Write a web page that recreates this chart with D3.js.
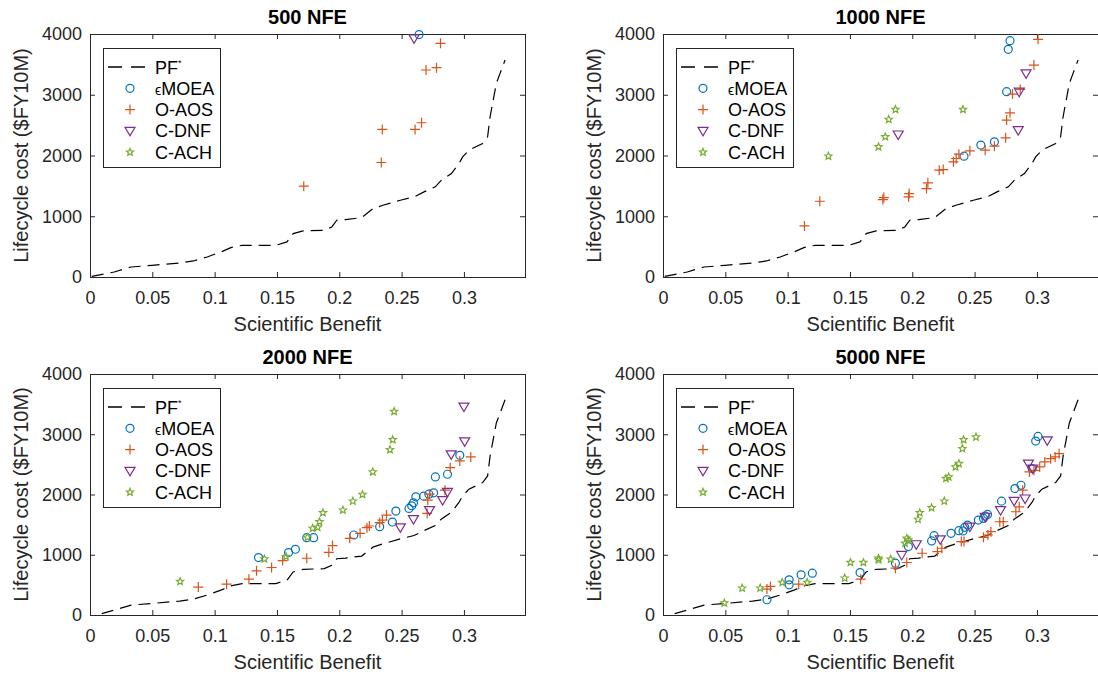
<!DOCTYPE html>
<html>
<head>
<meta charset="utf-8">
<script src="https://cdn.jsdelivr.net/npm/d3@7"></script>
<style>
body{margin:0;background:#fff;}
svg{display:block;font-family:"Liberation Sans",Arial,Helvetica,sans-serif;}
</style>
</head>
<body>
<svg width="1098" height="675"></svg>
<script>
const titles = ['500 NFE', '1000 NFE', '2000 NFE', '5000 NFE'];
const legendNames = ['PF', 'MOEA', 'O-AOS', 'C-DNF', 'C-ACH'];
const xTicks = [0, 0.05, 0.1, 0.15, 0.2, 0.25, 0.3];
const yTicks = [0, 1000, 2000, 3000, 4000];
const xMax = 0.349;
const yMax = 4000;

// reference pareto front (same in every panel)
const pfX = [0.0014, 0.0194, 0.033, 0.0498, 0.0719, 0.083, 0.094, 0.105, 0.113, 0.122, 0.149, 0.158, 0.163, 0.171, 0.188, 0.194, 0.198, 0.205, 0.218, 0.227, 0.235, 0.249, 0.26, 0.268, 0.277, 0.282, 0.29, 0.296, 0.299, 0.304, 0.315, 0.319, 0.321, 0.326, 0.329, 0.333];
const pfY = [11, 82, 165, 192, 231, 264, 330, 412, 484, 522, 522, 577, 714, 758, 769, 824, 934, 945, 978, 1126, 1181, 1264, 1319, 1401, 1484, 1594, 1703, 1868, 1978, 2088, 2198, 2308, 2638, 3187, 3352, 3572];
const pfBottomStart = [0.0094, 22];

// 500 NFE
const moea500 = [[0.264, 3990]];
const aos500 = [[0.1715, 1495], [0.2337, 1885], [0.2345, 2429], [0.2608, 2429], [0.266, 2539], [0.2696, 3407], [0.278, 3445], [0.2812, 3847]];
const dnf500 = [[0.26, 3929]];
const ach500 = [];

// 1000 NFE
const moea1000 = [[0.2784, 3890], [0.277, 3748], [0.2757, 3050], [0.2415, 1989], [0.255, 2171], [0.2659, 2225]];
const aos1000 = [[0.1135, 841], [0.1258, 1247], [0.1764, 1275], [0.1772, 1308], [0.197, 1319], [0.1975, 1374], [0.2114, 1456], [0.2125, 1550], [0.2216, 1758], [0.2248, 1769], [0.233, 1896], [0.2352, 1951], [0.2374, 2022], [0.2462, 2077], [0.2585, 2088], [0.2659, 2154], [0.2749, 2291], [0.2757, 2583], [0.2784, 2703], [0.2804, 3011], [0.2866, 3088], [0.2976, 3489], [0.3009, 3912]];
const dnf1000 = [[0.2913, 3352], [0.2858, 3050], [0.285, 2418], [0.1887, 2346]];
const ach1000 = [[0.1327, 1989], [0.1729, 2143], [0.1783, 2308], [0.1811, 2594], [0.1865, 2758], [0.2407, 2758]];

// 2000 NFE
const moea2000 = [[0.1352, 953], [0.1593, 1036], [0.1648, 1091], [0.1739, 1284], [0.1794, 1284], [0.2117, 1328], [0.2324, 1466], [0.2426, 1543], [0.2454, 1725], [0.2559, 1769], [0.2581, 1813], [0.2595, 1862], [0.2614, 1962], [0.2677, 1973], [0.2719, 2006], [0.2757, 2028], [0.2771, 2292], [0.2868, 2336], [0.2967, 2650]];
const aos2000 = [[0.0869, 463], [0.1096, 512], [0.1275, 595], [0.1336, 733], [0.1457, 788], [0.1546, 904], [0.1739, 942], [0.1916, 1041], [0.1946, 1152], [0.2084, 1273], [0.2167, 1355], [0.2222, 1449], [0.2241, 1477], [0.2324, 1532], [0.2346, 1576], [0.2379, 1658], [0.2705, 1686], [0.271, 1906], [0.2724, 2006], [0.2848, 2072], [0.289, 2446], [0.2967, 2557], [0.3055, 2623]];
const dnf2000 = [[0.249, 1455], [0.2595, 1592], [0.2724, 1741], [0.2829, 1906], [0.2868, 2044], [0.2898, 2667], [0.3006, 2882], [0.3, 3460]];
const ach2000 = [[0.0723, 556], [0.1399, 931], [0.1573, 970], [0.1744, 1289], [0.1786, 1438], [0.1827, 1455], [0.1841, 1548], [0.1869, 1697], [0.2029, 1741], [0.2109, 1890], [0.2186, 2000], [0.2269, 2375], [0.2407, 2744], [0.2429, 2909], [0.244, 3378]];

// 5000 NFE
const moea5000 = [[0.0834, 253], [0.1012, 584], [0.1012, 501], [0.1108, 667], [0.1198, 694], [0.1581, 705], [0.1865, 860], [0.1969, 1135], [0.2155, 1229], [0.2175, 1317], [0.2311, 1355], [0.2374, 1400], [0.2407, 1394], [0.2421, 1455], [0.2443, 1493], [0.253, 1576], [0.2571, 1603], [0.2585, 1642], [0.2604, 1670], [0.2716, 1890], [0.2823, 2099], [0.2872, 2154], [0.2962, 2430], [0.299, 2887], [0.3009, 2964]];
const aos5000 = [[0.0834, 430], [0.0862, 474], [0.1089, 512], [0.1586, 595], [0.1865, 777], [0.1956, 871], [0.2079, 1025], [0.2202, 1052], [0.2237, 1108], [0.2393, 1218], [0.2415, 1218], [0.2571, 1289], [0.2607, 1328], [0.2631, 1383], [0.2702, 1548], [0.273, 1548], [0.2831, 1714], [0.2858, 1796], [0.2886, 2072], [0.294, 2375], [0.2976, 2402], [0.3022, 2458], [0.3063, 2540], [0.311, 2595], [0.3146, 2623], [0.3178, 2678]];
const dnf5000 = [[0.1915, 997], [0.2032, 1174], [0.2224, 1256], [0.2462, 1466], [0.2585, 1631], [0.2708, 1741], [0.2817, 1895], [0.2905, 1934], [0.2932, 2513], [0.2967, 2430], [0.3083, 2898]];
const ach5000 = [[0.0492, 198], [0.0635, 446], [0.078, 446], [0.0957, 540], [0.1157, 540], [0.1458, 612], [0.1504, 871], [0.1608, 871], [0.1729, 915], [0.1729, 942], [0.1827, 926], [0.1942, 1190], [0.1956, 1273], [0.1969, 1245], [0.2046, 1587], [0.206, 1697], [0.2155, 1780], [0.2257, 1890], [0.227, 2265], [0.2292, 2292], [0.2347, 2458], [0.2374, 2513], [0.2402, 2761], [0.2412, 2909], [0.2511, 2953]];

const moeaSets = [moea500, moea1000, moea2000, moea5000];
const aosSets = [aos500, aos1000, aos2000, aos5000];
const dnfSets = [dnf500, dnf1000, dnf2000, dnf5000];
const achSets = [ach500, ach1000, ach2000, ach5000];

const axisColor = '#262626';
const colors = ['#0072BD', '#D95319', '#7E2F8E', '#77AC30'];
const panelW = 435;
const layout = [
	{left: 90, top: 34, h: 243},
	{left: 663, top: 34, h: 243},
	{left: 90, top: 374, h: 241},
	{left: 663, top: 374, h: 241}
];

var svg = d3.select('svg');

// marker shapes, matlab style
function starPath(r){
	var pts = [];
	for(var k=0; k<10; k++){
		var rr = k%2 ? r*0.45 : r;
		var a = -Math.PI/2 + k*Math.PI/5;
		pts.push([rr*Math.cos(a), rr*Math.sin(a)]);
	}
	return 'M' + pts.map(p => p[0].toFixed(2)+','+p[1].toFixed(2)).join('L') + 'Z';
}
const markerPaths = [
	d3.symbol(d3.symbolCircle, 50)(),
	'M-5,0H5M0,-5V5',
	'M-5,-3.5L5,-3.5L0,5Z',
	starPath(3.8)
];

function styleAxis(sel){
	sel.select('.domain').remove();
	sel.selectAll('.tick line').attr('stroke', axisColor);
	sel.selectAll('.tick text').attr('fill', axisColor).style('font-size', '18px');
}

function drawMarkers(g, data, k, x, y){
	g.append('g').selectAll('path').data(data).enter().append('path')
	.attr('transform', d => `translate(${x(d[0])},${y(d[1])})`)
	.attr('d', markerPaths[k])
	.attr('fill', 'none')
	.attr('stroke', colors[k])
	.attr('stroke-width', 1.2);
}

function drawLegend(g){
	var lg = g.append('g').attr('transform', 'translate(13,14)');
	lg.append('rect').attr('width', 117).attr('height', 119)
	.attr('fill', '#fff').attr('stroke', axisColor).attr('stroke-width', 1)
	.attr('shape-rendering', 'crispEdges');
	legendNames.forEach(function(name, i){
		var ry = 19 + i*21.3;
		if(i==0){
			lg.append('line').attr('x1', 5).attr('x2', 42).attr('y1', ry).attr('y2', ry)
			.attr('stroke', '#000').attr('stroke-width', 1.3).attr('stroke-dasharray', '14,9');
		} else {
			lg.append('path').attr('transform', `translate(27,${ry})`)
			.attr('d', markerPaths[i-1]).attr('fill', 'none')
			.attr('stroke', colors[i-1]).attr('stroke-width', 1.2);
		}
		var t = lg.append('text').attr('x', 52).attr('y', ry + 6.5)
		.attr('fill', '#000').style('font-size', '18px');
		if(i==0){
			t.append('tspan').text(name);
			t.append('tspan').attr('dy', -8).style('font-size', '9px').text('*');
		} else if(i==1){
			t.append('tspan').style('font-size', '14px').text('\u03f5');
			t.append('tspan').text(name);
		} else {
			t.text(name);
		}
	});
}

function drawPanel(p, i){
	var g = svg.append('g').attr('transform', `translate(${p.left},${p.top})`);
	var x = d3.scaleLinear().domain([0, xMax]).range([0, panelW]);
	var y = d3.scaleLinear().domain([0, yMax]).range([p.h, 0]);

	g.append('g').attr('transform', `translate(0,${p.h})`)
	.call(d3.axisBottom(x).tickValues(xTicks).tickSize(-5).tickSizeOuter(0).tickPadding(14).tickFormat(d => String(d)))
	.call(styleAxis);
	g.append('g')
	.call(d3.axisTop(x).tickValues(xTicks).tickSize(-5).tickSizeOuter(0).tickFormat(''))
	.call(styleAxis);
	g.append('g')
	.call(d3.axisLeft(y).tickValues(yTicks).tickSize(-5).tickSizeOuter(0).tickPadding(8).tickFormat(d => String(d)))
	.call(styleAxis);
	g.append('g').attr('transform', `translate(${panelW},0)`)
	.call(d3.axisRight(y).tickValues(yTicks).tickSize(-5).tickSizeOuter(0).tickFormat(''))
	.call(styleAxis);

	g.append('rect').attr('width', panelW).attr('height', p.h)
	.attr('fill', 'none').attr('stroke', axisColor).attr('stroke-width', 1)
	.attr('shape-rendering', 'crispEdges');

	// pareto front
	var pf = pfX.map((v, k) => [v, pfY[k]]);
	if(i>=2) pf[0] = pfBottomStart;
	g.append('path').datum(pf)
	.attr('d', d3.line().x(d => x(d[0])).y(d => y(d[1])))
	.attr('fill', 'none').attr('stroke', '#000').attr('stroke-width', 1.2)
	.attr('stroke-dasharray', '12,7');

	drawMarkers(g, moeaSets[i], 0, x, y);
	drawMarkers(g, aosSets[i], 1, x, y);
	drawMarkers(g, dnfSets[i], 2, x, y);
	drawMarkers(g, achSets[i], 3, x, y);

	drawLegend(g);

	g.append('text').attr('x', panelW/2).attr('y', -10)
	.attr('text-anchor', 'middle').style('font-size', '20px').style('font-weight', 'bold')
	.attr('fill', '#000').text(titles[i]);
	g.append('text').attr('x', panelW/2).attr('y', p.h + 54)
	.attr('text-anchor', 'middle').style('font-size', '20px')
	.attr('fill', axisColor).text('Scientific Benefit');
	g.append('text').attr('transform', `translate(-62,${p.h/2}) rotate(-90)`)
	.attr('text-anchor', 'middle').style('font-size', '20px')
	.attr('fill', axisColor).text('Lifecycle cost ($FY10M)');
}

layout.forEach(drawPanel);
</script>
</body>
</html>
